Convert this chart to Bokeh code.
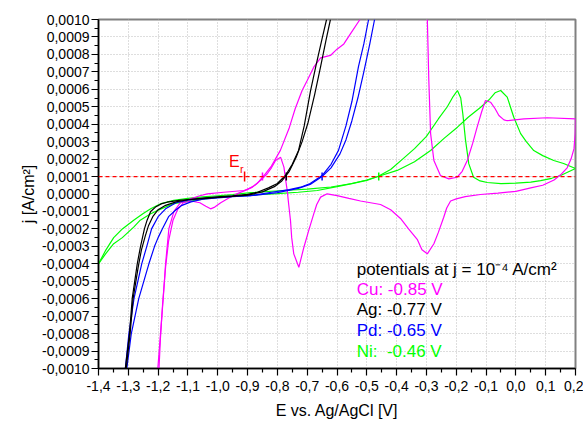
import numpy as np
from bokeh.plotting import figure
from bokeh.models import Range1d, FixedTicker, CustomJSTickFormatter, Span, Label
from bokeh.embed import file_html
from bokeh.resources import INLINE

# current density values are given in units of 1e-4 A/cm^2
UNIT = 1e-4

# Cu (magenta)
cu_fwd_E = [-1.201, -1.192, -1.183, -1.175, -1.164, -1.147, -1.125, -1.091, -1.06, -1.035, -0.98, -0.912,
            -0.885, -0.868, -0.845, -0.82, -0.79, -0.76, -0.74, -0.717, -0.70, -0.678, -0.655, -0.622,
            -0.60, -0.577, -0.555, -0.523]
cu_fwd_j = [-10, -8, -6, -4, -2, -1, -0.5, -0.28, -0.1, 0.01, 0.1, 0.2,
            0.38, 0.6, 1.06, 1.6, 2.5, 3.8, 4.9, 5.93, 6.5, 7.27, 7.8, 7.94,
            8.3, 8.6, 9.18, 10]
cu_loop_E = [-0.297, -0.292, -0.286, -0.275, -0.253, -0.225, -0.197, -0.18, -0.163, -0.145, -0.13, -0.115,
             -0.102, -0.085, -0.07, -0.057, -0.04, -0.029, 0.027, 0.105, 0.2, 0.199, 0.195, 0.185,
             0.172, 0.15, 0.128, 0.09, 0.05, 0.0, -0.06, -0.119, -0.17, -0.2, -0.219, -0.232,
             -0.242, -0.26, -0.275, -0.297, -0.315, -0.331, -0.36, -0.387, -0.42, -0.454, -0.521, -0.56,
             -0.6, -0.633, -0.655, -0.668, -0.678, -0.695, -0.711, -0.728, -0.745, -0.752, -0.756, -0.762,
             -0.767, -0.773, -0.778, -0.789, -0.806, -0.82, -0.834, -0.857, -0.88, -0.901, -0.93, -0.96,
             -0.99, -1.01, -1.024, -1.04, -1.06, -1.09, -1.115, -1.135, -1.15, -1.165, -1.175, -1.185,
             -1.192, -1.197]
cu_loop_j = [10, 6.5, 3.46, 1.92, 1.06, 0.87, 0.96, 1.3, 1.92, 2.9, 3.83, 4.7,
             5.36, 5.26, 4.9, 4.5, 4.25, 4.2, 4.3, 4.37, 4.3, 3.5, 2.6, 2.0,
             1.5, 1.1, 0.8, 0.5, 0.35, 0.15, 0.05, -0.03, -0.15, -0.28, -0.4, -0.8,
             -1.33, -2.2, -2.85, -3.43, -3.2, -2.6, -2.0, -1.4, -0.9, -0.6, -0.4, -0.25,
             -0.09, 0.01, -0.18, -0.6, -1.14, -2.1, -3.05, -4.2, -3.43, -2.5, -1.52, -0.6,
             0.2, 0.9, 1.54, 2.1, 1.92, 1.5, 1.16, 0.77, 0.45, 0.25, 0.05, -0.2,
             -0.5, -0.75, -0.85, -0.7, -0.5, -0.4, -0.5, -0.9, -1.5, -2.7, -4.2, -6.3,
             -8.2, -10]

# Ag (black)
ag_fwd_E = [-1.31, -1.296, -1.287, -1.270, -1.259, -1.246, -1.237, -1.225, -1.209, -1.19, -1.17, -1.13,
            -1.09, -1.04, -0.99, -0.95, -0.90, -0.867, -0.83, -0.80, -0.773, -0.75, -0.729, -0.71,
            -0.689, -0.67, -0.65, -0.635]
ag_fwd_j = [-10, -8, -6, -4, -3, -2, -1.5, -1.0, -0.75, -0.57, -0.47, -0.37,
            -0.3, -0.22, -0.15, -0.1, -0.02, 0.1, 0.35, 0.6, 1.06, 1.7, 2.5, 3.9,
            5.9, 7.4, 8.9, 10]
ag_rev_E = [-0.622, -0.637, -0.655, -0.675, -0.697, -0.717, -0.737, -0.76, -0.785, -0.81, -0.85, -0.90,
            -0.95, -1.00, -1.05, -1.10, -1.14, -1.175, -1.20, -1.218, -1.232, -1.243, -1.256, -1.267,
            -1.284, -1.294, -1.307]
ag_rev_j = [10, 8.8, 7.3, 5.7, 4.1, 3.0, 2.1, 1.3, 0.75, 0.42, 0.12, -0.06,
            -0.14, -0.2, -0.26, -0.33, -0.45, -0.65, -0.9, -1.3, -1.8, -2.4, -3.2, -4.2,
            -6.0, -8.0, -10]

# Pd (blue)
pd_fwd_E = [-1.31, -1.298, -1.281, -1.255, -1.238, -1.222, -1.20, -1.175, -1.14, -1.10, -1.05, -1.0,
            -0.95, -0.89, -0.82, -0.76, -0.722, -0.69, -0.65, -0.62, -0.595, -0.57, -0.55, -0.528,
            -0.51, -0.494]
pd_fwd_j = [-10, -8, -6, -4, -3, -2, -1.3, -0.85, -0.5, -0.35, -0.25, -0.18,
            -0.12, -0.09, 0.1, 0.25, 0.39, 0.6, 1.06, 1.7, 2.5, 3.9, 5.3, 7.3,
            8.6, 10]
pd_rev_E = [-0.474, -0.49, -0.51, -0.53, -0.55, -0.57, -0.59, -0.62, -0.65, -0.69, -0.73, -0.80,
            -0.88, -0.95, -1.00, -1.05, -1.09, -1.12, -1.14, -1.165, -1.186, -1.20, -1.212, -1.231,
            -1.265, -1.29, -1.305]
pd_rev_j = [10, 8.6, 7.0, 5.5, 4.2, 3.1, 2.3, 1.5, 1.0, 0.55, 0.32, 0.08,
            -0.08, -0.15, -0.22, -0.3, -0.45, -0.65, -0.9, -1.3, -2.0, -2.5, -3.0, -4.0,
            -6.0, -8.0, -10]

# Ni (green)
ni_fwd_E = [-1.4, -1.375, -1.349, -1.32, -1.282, -1.25, -1.225, -1.19, -1.148, -1.10, -1.05, -1.0,
            -0.95, -0.89, -0.78, -0.70, -0.62, -0.55, -0.50, -0.463, -0.42, -0.38, -0.34, -0.30,
            -0.26, -0.23, -0.21, -0.196, -0.185, -0.178, -0.169, -0.158, -0.142, -0.12, -0.096, -0.05,
            0.0, 0.05, 0.083, 0.12, 0.15, 0.2]
ni_fwd_j = [-4.0, -3.2, -2.5, -2.0, -1.5, -1.12, -0.85, -0.55, -0.37, -0.25, -0.17, -0.1,
            -0.04, 0.08, 0.2, 0.28, 0.4, 0.6, 0.8, 1.0, 1.4, 2.0, 2.6, 3.3,
            4.3, 5.0, 5.6, 5.93, 5.5, 4.6, 3.1, 1.74, 0.96, 0.75, 0.66, 0.6,
            0.62, 0.68, 0.77, 0.9, 1.06, 1.46]
ni_rev_E = [0.2, 0.16, 0.127, 0.09, 0.06, 0.035, 0.016, -0.007, -0.029, -0.051, -0.07, -0.09,
            -0.118, -0.16, -0.196, -0.24, -0.286, -0.34, -0.398, -0.463, -0.50, -0.554, -0.60, -0.666,
            -0.73, -0.80, -0.90, -1.0, -1.05, -1.10, -1.148, -1.19, -1.225, -1.26, -1.282, -1.32,
            -1.349, -1.375, -1.4]
ni_rev_j = [1.46, 1.75, 1.92, 2.2, 2.49, 3.0, 3.46, 4.4, 5.55, 5.93, 5.8, 5.4,
            4.97, 4.4, 3.83, 3.2, 2.49, 1.85, 1.35, 1.0, 0.78, 0.58, 0.42, 0.2,
            0.1, 0.02, -0.08, -0.2, -0.3, -0.42, -0.55, -0.85, -1.13, -1.5, -1.9, -2.5,
            -2.85, -3.4, -4.0]

# potentials at j = 1e-4 A/cm^2
metals = ["Cu", "Ag", "Pd", "Ni"]
potentials = [-0.85, -0.77, -0.65, -0.46]
colors = ["#ff00ff", "#000000", "#0000ff", "#00ff00"]
er_potential = -0.91
j_ref = 1e-4

x_ticks = [-1.4, -1.3, -1.2, -1.1, -1.0, -0.9, -0.8, -0.7, -0.6, -0.5, -0.4, -0.3, -0.2, -0.1, 0.0, 0.1, 0.2]
y_ticks = [-0.0010, -0.0009, -0.0008, -0.0007, -0.0006, -0.0005, -0.0004, -0.0003, -0.0002, -0.0001,
           0.0, 0.0001, 0.0002, 0.0003, 0.0004, 0.0005, 0.0006, 0.0007, 0.0008, 0.0009, 0.0010]
x_minor = [(a + b) / 2 for a, b in zip(x_ticks[:-1], x_ticks[1:])]
y_minor = [(a + b) / 2 for a, b in zip(y_ticks[:-1], y_ticks[1:])]

FONT = "Liberation Sans"

p = figure(width=583, height=421, output_backend="svg", toolbar_location=None,
           x_range=Range1d(-1.4, 0.2), y_range=Range1d(-0.001, 0.001),
           min_border_left=98, min_border_right=8, min_border_top=19, min_border_bottom=53)
p.background_fill_color = "white"
p.border_fill_color = "white"
p.outline_line_color = "#808080"
p.outline_line_width = 2

for ax in (p.xaxis[0], p.yaxis[0]):
    ax.axis_line_color = "black"
    ax.axis_line_width = 1.5
    ax.major_tick_line_color = "black"
    ax.minor_tick_line_color = "black"
    ax.major_tick_in = 0
    ax.major_tick_out = 7
    ax.minor_tick_in = 0
    ax.minor_tick_out = 4
    ax.major_tick_line_width = 1.2
    ax.minor_tick_line_width = 1.2
    ax.major_label_text_font = FONT
    ax.major_label_text_font_size = "14px"
    ax.major_label_text_color = "black"
    ax.axis_label_text_font = FONT
    ax.axis_label_text_font_size = "16px"
    ax.axis_label_text_font_style = "normal"
    ax.axis_label_text_color = "black"

p.xaxis.ticker = FixedTicker(ticks=x_ticks, minor_ticks=x_minor)
p.yaxis.ticker = FixedTicker(ticks=y_ticks, minor_ticks=y_minor)
p.xaxis.formatter = CustomJSTickFormatter(code="""
const v = Math.abs(tick) < 1e-9 ? 0 : tick;
return v.toFixed(1).replace('.', ',');
""")
p.yaxis.formatter = CustomJSTickFormatter(code="""
const v = Math.abs(tick) < 1e-12 ? 0 : tick;
return v.toFixed(4).replace('.', ',');
""")
p.xaxis.axis_label = "E vs. Ag/AgCl [V]"
p.yaxis.axis_label = "j [A/cm\u00b2]"
p.xaxis.major_label_standoff = 5
p.yaxis.major_label_standoff = 2
p.xaxis.axis_label_standoff = 8
p.yaxis.axis_label_standoff = 2

for g in (p.xgrid[0], p.ygrid[0]):
    g.grid_line_color = "#bdbdbd"
    g.grid_line_dash = "1 2"
    g.grid_line_width = 1

def J(vals):
    return np.array(vals, dtype=float) * UNIT

LW = 1.2
p.line(ni_fwd_E, J(ni_fwd_j), line_color=colors[3], line_width=LW)
p.line(ni_rev_E, J(ni_rev_j), line_color=colors[3], line_width=LW)
p.line(cu_fwd_E, J(cu_fwd_j), line_color=colors[0], line_width=LW)
p.line(cu_loop_E, J(cu_loop_j), line_color=colors[0], line_width=LW)
p.line(pd_fwd_E, J(pd_fwd_j), line_color=colors[2], line_width=LW)
p.line(pd_rev_E, J(pd_rev_j), line_color=colors[2], line_width=LW)
p.line(ag_fwd_E, J(ag_fwd_j), line_color=colors[1], line_width=LW)
p.line(ag_rev_E, J(ag_rev_j), line_color=colors[1], line_width=LW)

p.add_layout(Span(location=j_ref, dimension="width", line_color="#ff0000",
                  line_dash="4 3", line_width=1.2))

p.scatter(potentials, [j_ref] * len(potentials), marker="dash", angle=np.pi / 2, size=8,
          line_color=colors, line_width=1.5)
p.scatter([er_potential], [j_ref], marker="dash", angle=np.pi / 2, size=10,
          line_color="#ff0000", line_width=1.5)

p.add_layout(Label(x=-0.962, y=1.86e-4, text="E", text_font=FONT, text_font_size="16px",
                   text_color="#ff0000", text_baseline="middle", text_align="left"))
p.add_layout(Label(x=-0.925, y=1.45e-4, text="r", text_font=FONT, text_font_size="11px",
                   text_color="#ff0000", text_baseline="middle", text_align="left"))

legend_x = -0.534
legend_y = [-4.33e-4, -5.47e-4, -6.62e-4, -7.82e-4, -9.0e-4]
legend_texts = ["potentials at j = 10\u207b\u2074 A/cm\u00b2",
                "Cu: -0.85 V", "Ag: -0.77 V", "Pd: -0.65 V", "Ni:\u00a0 -0.46 V"]
legend_colors = ["#000000"] + colors
for t, yy, c in zip(legend_texts, legend_y, legend_colors):
    p.add_layout(Label(x=legend_x, y=yy, text=t, text_font=FONT, text_font_size="17px",
                       text_color=c, text_baseline="middle", text_align="left"))

open("out.html", "w").write(file_html(p, INLINE))
